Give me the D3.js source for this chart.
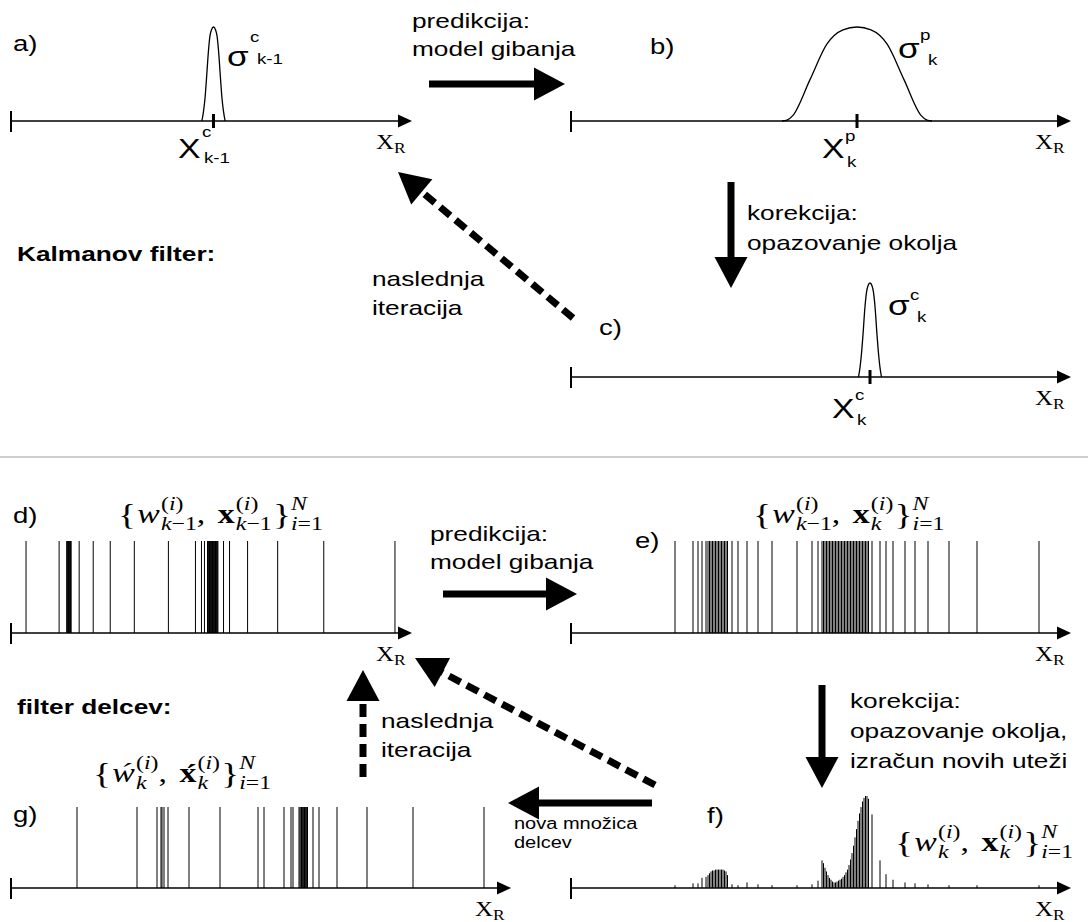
<!DOCTYPE html>
<html><head><meta charset="utf-8">
<script src="https://cdn.jsdelivr.net/npm/d3@7"></script>
<style>body{margin:0;background:#fff}</style>
</head><body><svg id="c" width="1088" height="922"></svg>
<script>
// ---------------- DATA ----------------
// Gaussian-like densities (offset from mean in axis units, relative height)
const bellA_offsets = [-2.9,-2.5,-2.1,-1.75,-1.25,-0.9,-0.5,0,0.5,0.9,1.25,1.75,2.1,2.5,2.9];
const bellA_heights = [0,0.1,0.25,0.45,0.75,0.9,0.97,1,0.97,0.9,0.75,0.45,0.25,0.1,0];
const bellA_mean = 50.5;
const bellB_offsets = [-15,-14,-12.8,-9.4,-6,-2.8,0,2.8,6,9.4,12.8,14,15];
const bellB_heights = [0,0.01,0.06,0.44,0.82,0.97,1,0.97,0.82,0.44,0.06,0.01,0];
const bellB_mean = 57.2;
const bellC_offsets = [-2.3,-2,-1.7,-1.4,-1,-0.7,-0.4,0,0.4,0.7,1,1.4,1.7,2,2.3];
const bellC_heights = [0,0.1,0.25,0.45,0.75,0.9,0.97,1,0.97,0.9,0.75,0.45,0.25,0.1,0];
const bellC_mean = 59.8;

// particle positions (axis units 0..100)
const particlesD = [3.75,12,13.9,14.0,14.15,14.3,14.4,14.55,14.7,14.85,15.0,17,20.5,24.75,30.75,39.25,46,47.5,48.25,
  49.0,49.2,49.35,49.5,49.65,49.8,49.95,50.1,50.25,50.4,50.55,50.7,50.85,51.0,51.15,51.3,51.45,51.6,53,54.5,59,66.5,78,95.75];
const particlesE = [20.8,24.4,25.4,26.2,27.0,27.4,27.7,28.0,28.3,28.6,28.9,29.2,29.5,29.8,30.1,30.4,30.7,31.0,31.3,
  32.2,33.4,35.2,37.4,40.2,45.2,48.2,49.4,
  50.2,50.5,50.8,51.1,51.4,51.7,52.0,52.3,52.6,52.9,53.2,53.5,53.8,54.1,54.4,54.7,55.0,55.3,55.6,55.9,
  56.2,56.5,56.8,57.1,57.4,57.7,58.0,58.3,58.6,58.9,59.2,59.5,
  60.2,61.8,63.0,64.4,66.8,68.8,71.4,75.6,81.2,93.6];
const weightsF = [0.03,0.05,0.05,0.11,0.12,0.14,0.16,0.18,0.19,0.19,0.2,0.2,0.2,0.2,0.2,0.2,0.19,0.18,0.14,
  0.04,0.03,0.06,0.04,0.03,0.03,0.04,0.08,
  0.3,0.27,0.22,0.18,0.14,0.11,0.09,0.07,0.06,0.06,0.07,0.08,0.09,0.1,0.12,0.14,0.17,0.2,0.25,0.31,
  0.38,0.46,0.55,0.64,0.73,0.81,0.88,0.94,0.98,1.0,1.0,0.97,
  0.8,0.3,0.15,0.09,0.06,0.05,0.04,0.03,0.03,0.03];
const particlesG = [13.2,25.2,29.2,30,30.2,30.6,31.4,35.6,41.8,49.4,50.6,54.6,56,56.4,
  57.6,57.8,58.0,58.1,58.25,58.4,58.55,58.7,58.85,59.0,59.15,59.3,60.4,61.6,65.2,71.2,80.4,94.6];

// ---------------- SETUP ----------------
const svg = d3.select('#c');
svg.append('rect').attr('width',1088).attr('height',922).attr('fill','#fff');
const SANS = '"Liberation Sans", Arial, Helvetica, sans-serif';
const SERIF = '"Liberation Serif", "Times New Roman", serif';
const SX = 1.25;   // horizontal stretch of lettering in the reference

function txt(x, y, s, size, o = {}) {
  return svg.append('text')
    .attr('transform', `translate(${x},${y}) scale(${SX},1)`)
    .attr('font-family', o.family || SANS).attr('font-size', size)
    .attr('font-weight', o.bold ? 'bold' : null)
    .attr('font-style', o.italic ? 'italic' : null)
    .attr('fill', '#000').text(s);
}

const sA = d3.scaleLinear().domain([0, 100]).range([11, 412]);
const sD = d3.scaleLinear().domain([0, 100]).range([11, 412]);
const sG = d3.scaleLinear().domain([0, 100]).range([11, 511]);
const sR = d3.scaleLinear().domain([0, 100]).range([571, 1071]);

function drawAxis(scale, y) {
  const [x0, x1] = scale.range();
  const g = svg.append('g');
  g.append('line').attr('x1', x0).attr('x2', x1 - 10).attr('y1', y).attr('y2', y)
    .attr('stroke', '#000').attr('stroke-width', 1.6);
  g.append('line').attr('x1', x0).attr('x2', x0).attr('y1', y - 10).attr('y2', y + 11)
    .attr('stroke', '#000').attr('stroke-width', 2);
  g.append('path').attr('d', `M${x1},${y}L${x1 - 14},${y - 6.5}L${x1 - 14},${y + 6.5}Z`).attr('fill', '#000');
  txt(x1 - 36, y + 28, 'X', 20, {family: SERIF});
  txt(x1 - 18, y + 32, 'R', 14, {family: SERIF});
}

function drawBell(scale, y, mean, offs, hs) {
  const yb = d3.scaleLinear().domain([0, 1]).range([y, y - 94]);
  const line = d3.line().x(d => scale(mean + d[0])).y(d => yb(d[1])).curve(d3.curveMonotoneX);
  svg.append('path').attr('d', line(d3.zip(offs, hs))).attr('fill', 'none')
    .attr('stroke', '#000').attr('stroke-width', 1.3);
  svg.append('line').attr('x1', scale(mean)).attr('x2', scale(mean)).attr('y1', y - 7).attr('y2', y + 7)
    .attr('stroke', '#000').attr('stroke-width', 3);
}

function drawParticles(scale, y, pos, weights, hmax) {
  const yw = d3.scaleLinear().domain([0, 1]).range([y, y - hmax]);
  svg.append('g').selectAll('line').data(pos).join('line')
    .attr('x1', d => scale(d)).attr('x2', d => scale(d))
    .attr('y1', y).attr('y2', (d, i) => yw(weights ? weights[i] : 1))
    .attr('stroke', '#000').attr('stroke-width', 1);
}

function arrow(x1, y1, x2, y2, o = {}) {
  const w = o.w || 7, hl = o.hl || 31, hw = o.hw || 16.5;
  const ang = Math.atan2(y2 - y1, x2 - x1);
  const bx = x2 - hl * Math.cos(ang), by = y2 - hl * Math.sin(ang);
  const px = -Math.sin(ang), py = Math.cos(ang);
  svg.append('line').attr('x1', x1).attr('y1', y1).attr('x2', bx + 2 * Math.cos(ang)).attr('y2', by + 2 * Math.sin(ang))
    .attr('stroke', '#000').attr('stroke-width', w)
    .attr('stroke-dasharray', o.dashed ? '13,7' : null);
  svg.append('path').attr('d', `M${x2},${y2}L${bx + px * hw},${by + py * hw}L${bx - px * hw},${by - py * hw}Z`).attr('fill', '#000');
}

// base symbol with super- and subscript (absolute positions)
function symLabel(base, sup, sub, size, ss) {
  txt(base[0], base[1], base[2], size);
  txt(sup[0], sup[1], sup[2], ss);
  txt(sub[0], sub[1], sub[2], ss);
}

// math: letters italic, other chars roman
function rich(sel, str, bold) {
  const runs = str.match(/[A-Za-z\u1E83\u0301]+|[^A-Za-z\u1E83\u0301]+/g) || [];
  runs.forEach(r => {
    const isL = /[A-Za-z\u1E83]/.test(r);
    sel.append('tspan').attr('font-style', isL && !bold ? 'italic' : 'normal')
      .attr('font-weight', bold ? 'bold' : 'normal').text(r);
  });
}
function setLabel(x, y, wSub, xSub, accent) {
  const M = 27, S = 19;
  const g = svg.append('g').attr('transform', `translate(${x},${y}) scale(${SX},1)`);
  const mt = (cx, cy, str, size, bold) => {
    const t = g.append('text').attr('x', cx).attr('y', cy).attr('font-family', SERIF)
      .attr('font-size', size).attr('fill', '#000');
    rich(t, str, bold);
    return t.node().getComputedTextLength();
  };
  let cx = 0;
  cx += mt(cx, 1, '{', M + 3) + 1;
  cx += mt(cx, 0, accent ? '\u1E83' : 'w', M) + 1;
  cx += Math.max(mt(cx, -13, '(i)', S), mt(cx, 7, wSub, S));
  cx += mt(cx, 0, ',', M) + 10;
  cx += mt(cx, 0, accent ? 'x\u0301' : 'x', M, true) + 1;
  cx += Math.max(mt(cx, -13, '(i)', S), mt(cx, 7, xSub, S)) + 1;
  cx += mt(cx, 1, '}', M + 3);
  mt(cx, -13, 'N', S); mt(cx, 7, 'i=1', S);
}

// ---------------- KALMAN ----------------
const FS = 21;
txt(13, 51, 'a)', 22);
drawAxis(sA, 121);
drawBell(sA, 121, bellA_mean, bellA_offsets, bellA_heights);
symLabel([227, 66, 'σ'], [250, 42, 'c'], [257, 64, 'k-1'], 28, 15);
symLabel([178, 158, 'X'], [202, 137, 'c'], [204, 163, 'k-1'], 27, 15);

txt(412, 28, 'predikcija:', FS);
txt(412, 56, 'model gibanja', FS);
arrow(429, 84, 565, 84);

txt(650, 54, 'b)', 22);
drawAxis(sR, 121);
drawBell(sR, 121, bellB_mean, bellB_offsets, bellB_heights);
symLabel([898, 58, 'σ'], [920, 40, 'p'], [928, 65, 'k'], 28, 15);
symLabel([822, 158, 'X'], [845, 141, 'p'], [847, 167, 'k'], 27, 15);

arrow(731, 182, 731, 288);
txt(747, 220, 'korekcija:', FS);
txt(747, 250, 'opazovanje okolja', FS);

txt(17, 261, 'Kalmanov filter:', FS, {bold: true});
arrow(573, 318, 398, 172, {dashed: true});
txt(372, 286, 'naslednja', FS);
txt(372, 315, 'iteracija', FS);

txt(599, 335, 'c)', 22);
drawAxis(sR, 377);
drawBell(sR, 377, bellC_mean, bellC_offsets, bellC_heights);
symLabel([888, 315, 'σ'], [910, 300, 'c'], [917, 322, 'k'], 28, 15);
symLabel([832, 418, 'X'], [855, 400, 'c'], [857, 425, 'k'], 27, 15);

// divider
svg.append('line').attr('x1', 0).attr('x2', 1088).attr('y1', 457).attr('y2', 457)
  .attr('stroke', '#cfcfcf').attr('stroke-width', 2);

// ---------------- PARTICLE FILTER ----------------
txt(13, 523, 'd)', 22);
setLabel(118, 523, 'k−1', 'k−1');
drawParticles(sD, 633, particlesD, null, 92);
drawAxis(sD, 633);

txt(430, 541, 'predikcija:', FS);
txt(430, 569, 'model gibanja', FS);
arrow(443, 594, 577, 594);

txt(635, 548, 'e)', 22);
setLabel(753, 523, 'k−1', 'k');
drawParticles(sR, 633, particlesE, null, 92);
drawAxis(sR, 633);

txt(17, 714, 'filter delcev:', FS, {bold: true});
arrow(822, 685, 822, 788);
txt(850, 708, 'korekcija:', FS);
txt(850, 738, 'opazovanje okolja,', FS);
txt(850, 768, 'izračun novih uteži', FS);

arrow(655, 785, 415, 658, {dashed: true});
arrow(363, 777, 363, 670, {dashed: true});
txt(381, 728, 'naslednja', FS);
txt(381, 757, 'iteracija', FS);

arrow(652, 803, 508, 803);
txt(514, 829, 'nova množica', 16);
txt(514, 848, 'delcev', 16);

txt(707, 823, 'f)', 22);
drawParticles(sR, 888, particlesE, weightsF, 92);
drawAxis(sR, 888);
setLabel(895, 851, 'k', 'k');

txt(13, 822, 'g)', 22);
setLabel(93, 782, 'k', 'k', true);
drawParticles(sG, 888, particlesG, null, 81);
drawAxis(sG, 888);
</script></body></html>
